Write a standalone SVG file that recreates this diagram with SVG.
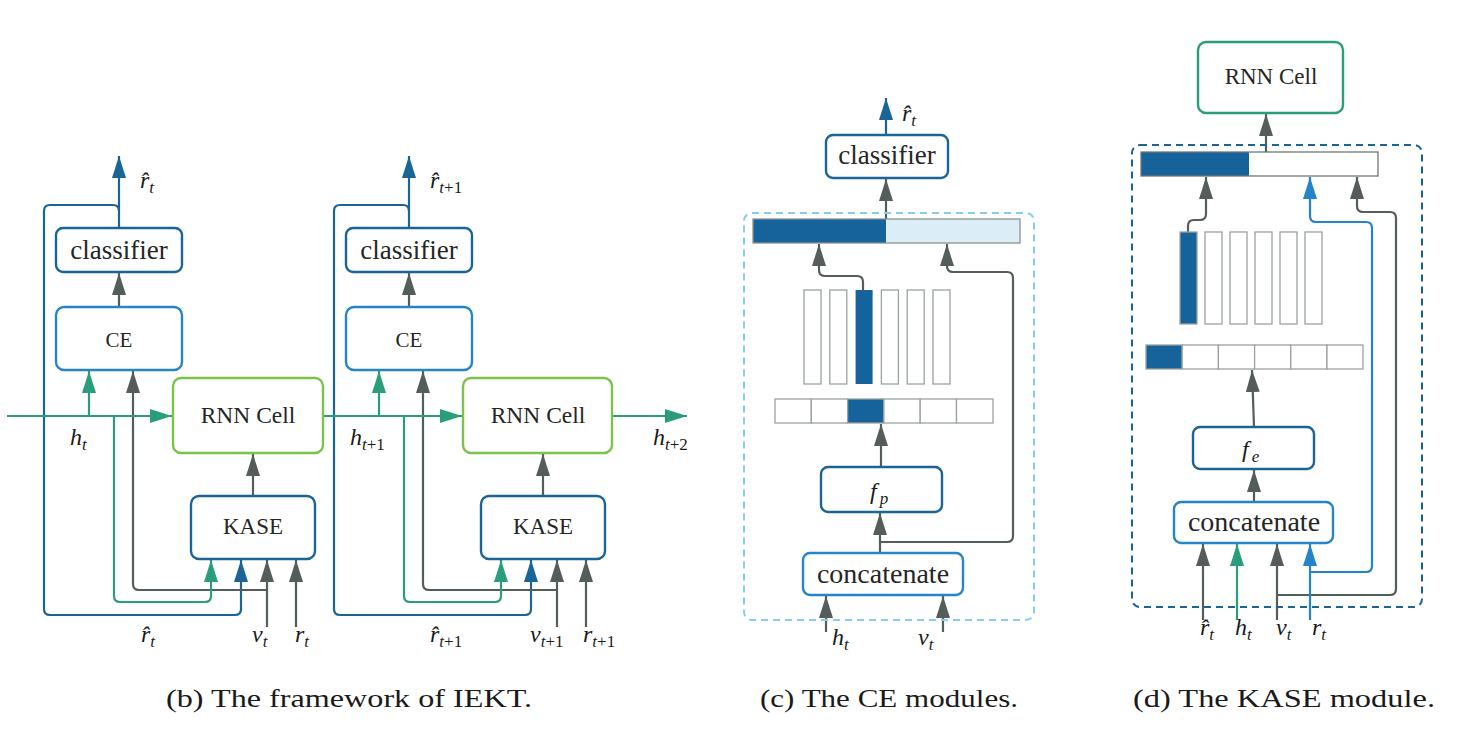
<svg xmlns="http://www.w3.org/2000/svg" width="1472" height="736" viewBox="0 0 1472 736">
<style>
.box{fill:#fff;stroke-width:2.4}
.dk{stroke:#1b6496}
.lb{stroke:#2685c6}
.gr{stroke:#7dc24b}
.tl{stroke:#2a9d7c}
.lbl{font-family:'Liberation Serif','Times New Roman','DejaVu Serif',serif;fill:#262626;text-anchor:middle}
.m{font-family:'Liberation Serif','Times New Roman','DejaVu Serif',serif;font-style:italic;font-size:24px;fill:#1a1a1a}
.s{font-size:17px}
.u{font-style:normal}
.c{fill:none;stroke-width:2.2;stroke-linejoin:round}
.cg{stroke:#555d5b}
.ct{stroke:#2a9d7c}
.cb{stroke:#1b6496}
.cl{stroke:#2384c9}
.cell{fill:#fff;stroke:#9aa3a0;stroke-width:1.3}
.dfill{fill:#15639a}
.cap{font-family:'Liberation Serif','Times New Roman','DejaVu Serif',serif;font-size:26px;fill:#1a1a1a}
</style>
<defs>
<marker id="ag" markerUnits="userSpaceOnUse" markerWidth="22" markerHeight="14" refX="22" refY="7" orient="auto"><path d="M0,0 L22,7 L0,14 z" fill="#555d5b"/></marker>
<marker id="at" markerUnits="userSpaceOnUse" markerWidth="22" markerHeight="14" refX="22" refY="7" orient="auto"><path d="M0,0 L22,7 L0,14 z" fill="#2a9d7c"/></marker>
<marker id="ab" markerUnits="userSpaceOnUse" markerWidth="22" markerHeight="14" refX="22" refY="7" orient="auto"><path d="M0,0 L22,7 L0,14 z" fill="#1b6496"/></marker>
<marker id="al" markerUnits="userSpaceOnUse" markerWidth="22" markerHeight="14" refX="22" refY="7" orient="auto"><path d="M0,0 L22,7 L0,14 z" fill="#2384c9"/></marker>
</defs>

<!-- connectors -->
<g id="connectors">
<!-- panel b column 1 -->
<path class="c cb" d="M119,228 V156" marker-end="url(#ab)"/>
<path class="c cb" d="M119,211 Q119,205 113,205 H50 Q44,205 44,211 V609 Q44,615 50,615 H235 Q241,615 241,609 V560" marker-end="url(#ab)"/>
<path class="c cg" d="M119,307 V273" marker-end="url(#ag)"/>
<path class="c ct" d="M89,416 V371" marker-end="url(#at)"/>
<path class="c cg" d="M267,590 H139 Q133,590 133,584 V371" marker-end="url(#ag)"/>
<path class="c ct" d="M114,416 V596 Q114,602 120,602 H205 Q211,602 211,596 V560" marker-end="url(#at)"/>
<path class="c ct" d="M7,416 H172" marker-end="url(#at)"/>
<path class="c cg" d="M253,496 V454" marker-end="url(#ag)"/>
<path class="c cg" d="M267,627 V560" marker-end="url(#ag)"/>
<path class="c cg" d="M296,627 V560" marker-end="url(#ag)"/>
<!-- panel b column 2 -->
<path class="c cb" d="M409,228 V156" marker-end="url(#ab)"/>
<path class="c cb" d="M409,211 Q409,205 403,205 H340 Q334,205 334,211 V609 Q334,615 340,615 H525 Q531,615 531,609 V560" marker-end="url(#ab)"/>
<path class="c cg" d="M409,307 V273" marker-end="url(#ag)"/>
<path class="c ct" d="M379,416 V371" marker-end="url(#at)"/>
<path class="c cg" d="M557,590 H429 Q423,590 423,584 V371" marker-end="url(#ag)"/>
<path class="c ct" d="M404,416 V596 Q404,602 410,602 H495 Q501,602 501,596 V560" marker-end="url(#at)"/>
<path class="c ct" d="M323,416 H462" marker-end="url(#at)"/>
<path class="c cg" d="M543,496 V454" marker-end="url(#ag)"/>
<path class="c cg" d="M557,627 V560" marker-end="url(#ag)"/>
<path class="c cg" d="M586,627 V560" marker-end="url(#ag)"/>
<path class="c ct" d="M612,416 H687" marker-end="url(#at)"/>
<!-- panel c -->
<path class="c cb" d="M886,135 V98" marker-end="url(#ab)"/>
<path class="c cg" d="M886,219 V179" marker-end="url(#ag)"/>
<path class="c cg" d="M863,290 V282 Q863,276 857,276 H825 Q819,276 819,270 V244" marker-end="url(#ag)"/>
<path class="c cg" d="M880,542 H1007 Q1013,542 1013,536 V278 Q1013,272 1007,272 H953 Q947,272 947,266 V244" marker-end="url(#ag)"/>
<path class="c cg" d="M881,467 V424" marker-end="url(#ag)"/>
<path class="c cg" d="M880,553 V513" marker-end="url(#ag)"/>
<path class="c cg" d="M826,632 V596" marker-end="url(#ag)"/>
<path class="c cg" d="M943,632 V596" marker-end="url(#ag)"/>
<!-- panel d -->
<path class="c cg" d="M1266,152 V114" marker-end="url(#ag)"/>
<path class="c cg" d="M1188,232 V226 Q1188,220 1194,220 H1200 Q1206,220 1206,214 V177" marker-end="url(#ag)"/>
<path class="c cl" d="M1310,572 H1366 Q1372,572 1372,566 V228 Q1372,222 1366,222 H1316 Q1310,222 1310,216 V177" marker-end="url(#al)"/>
<path class="c cg" d="M1277,595 H1390 Q1396,595 1396,589 V218 Q1396,212 1390,212 H1363 Q1357,212 1357,206 V177" marker-end="url(#ag)"/>
<path class="c cg" d="M1254,427 L1252,370" marker-end="url(#ag)"/>
<path class="c cg" d="M1254,502 V470" marker-end="url(#ag)"/>
<path class="c cg" d="M1203,620 V544" marker-end="url(#ag)"/>
<path class="c ct" d="M1237,620 V544" marker-end="url(#at)"/>
<path class="c cg" d="M1277,620 V544" marker-end="url(#ag)"/>
<path class="c cl" d="M1310,620 V544" marker-end="url(#al)"/>
</g>

<!-- panel b nodes -->
<g id="classifier1"><rect class="box dk" x="56" y="228" width="126" height="44" rx="7"/><text class="lbl" x="119" y="259" font-size="27">classifier</text></g>
<g id="ce1"><rect class="box lb" x="56" y="307" width="126" height="63" rx="8"/><text class="lbl" x="119" y="347" font-size="21">CE</text></g>
<g id="rnn1"><rect class="box gr" x="173" y="378" width="150" height="75" rx="8"/><text class="lbl" x="248" y="423" font-size="23.5">RNN Cell</text></g>
<g id="kase1"><rect class="box dk" x="191" y="496" width="124" height="63" rx="8"/><text class="lbl" x="253" y="534" font-size="23">KASE</text></g>

<g id="classifier2"><rect class="box dk" x="346" y="228" width="126" height="44" rx="7"/><text class="lbl" x="409" y="259" font-size="27">classifier</text></g>
<g id="ce2"><rect class="box lb" x="346" y="307" width="126" height="63" rx="8"/><text class="lbl" x="409" y="347" font-size="21">CE</text></g>
<g id="rnn2"><rect class="box gr" x="463" y="378" width="149" height="75" rx="8"/><text class="lbl" x="538" y="423" font-size="23.5">RNN Cell</text></g>
<g id="kase2"><rect class="box dk" x="481" y="496" width="124" height="63" rx="8"/><text class="lbl" x="543" y="534" font-size="23">KASE</text></g>

<!-- panel b labels -->
<g id="labels-b">
<text class="m" x="140" y="188">r&#770;<tspan class="s" dy="5">t</tspan></text>
<text class="m" x="70" y="445">h<tspan class="s" dy="5">t</tspan></text>
<text class="m" x="141" y="642">r&#770;<tspan class="s" dy="5">t</tspan></text>
<text class="m" x="252" y="642">v<tspan class="s" dy="5">t</tspan></text>
<text class="m" x="295" y="642">r<tspan class="s" dy="5">t</tspan></text>

<text class="m" x="430" y="188">r&#770;<tspan class="s" dy="5">t</tspan><tspan class="s u">+1</tspan></text>
<text class="m" x="350" y="445">h<tspan class="s" dy="5">t</tspan><tspan class="s u">+1</tspan></text>
<text class="m" x="653" y="445">h<tspan class="s" dy="5">t</tspan><tspan class="s u">+2</tspan></text>
<text class="m" x="430" y="642">r&#770;<tspan class="s" dy="5">t</tspan><tspan class="s u">+1</tspan></text>
<text class="m" x="530" y="642">v<tspan class="s" dy="5">t</tspan><tspan class="s u">+1</tspan></text>
<text class="m" x="583" y="642">r<tspan class="s" dy="5">t</tspan><tspan class="s u">+1</tspan></text>
</g>

<!-- panel c -->
<g id="ce-frame"><rect x="744" y="213" width="290" height="407" rx="8" fill="none" stroke="#86cdf1" stroke-width="2" stroke-dasharray="7 5"/></g>
<g id="classifier-c"><rect class="box dk" x="826" y="135" width="122" height="43" rx="7"/><text class="lbl" x="887" y="164" font-size="27">classifier</text></g>
<g id="ce-bar">
<rect x="753" y="219" width="133" height="24" class="dfill"/>
<rect x="886" y="219" width="134" height="24" fill="#dbeef8"/>
<rect x="753" y="219" width="267" height="24" fill="none" stroke="#8a9390" stroke-width="1.3"/>
</g>
<g id="ce-columns">
<rect class="cell" x="804" y="290" width="17" height="94"/>
<rect class="cell" x="829.8" y="290" width="17" height="94"/>
<rect class="dfill" x="855.6" y="290" width="17" height="94"/>
<rect class="cell" x="881.4" y="290" width="17" height="94"/>
<rect class="cell" x="907.2" y="290" width="17" height="94"/>
<rect class="cell" x="933" y="290" width="17" height="94"/>
</g>
<g id="ce-cells">
<rect class="cell" x="775" y="399" width="36.3" height="24"/>
<rect class="cell" x="811.3" y="399" width="36.3" height="24"/>
<rect class="dfill" x="847.6" y="399" width="36.3" height="24" stroke="#9aa3a0" stroke-width="1.3"/>
<rect class="cell" x="883.9" y="399" width="36.3" height="24"/>
<rect class="cell" x="920.2" y="399" width="36.3" height="24"/>
<rect class="cell" x="956.5" y="399" width="36.5" height="24"/>
</g>
<g id="fp"><rect class="box dk" x="821" y="467" width="121" height="45" rx="7"/><text class="m" x="870" y="499" font-size="25">f<tspan class="s" dx="3" dy="5">p</tspan></text></g>
<g id="concat-c"><rect class="box lb" x="803" y="553" width="160" height="42" rx="7"/><text class="lbl" x="883" y="583" font-size="28">concatenate</text></g>
<g id="labels-c">
<text class="m" x="902" y="121">r&#770;<tspan class="s" dy="5">t</tspan></text>
<text class="m" x="832" y="645">h<tspan class="s" dy="5">t</tspan></text>
<text class="m" x="918" y="645">v<tspan class="s" dy="5">t</tspan></text>
</g>

<!-- panel d -->
<g id="kase-frame"><rect x="1132" y="145" width="290" height="462" rx="8" fill="none" stroke="#1b6496" stroke-width="2" stroke-dasharray="7 5"/></g>
<g id="rnn-d"><rect class="box tl" x="1198" y="42" width="145" height="71" rx="8"/><text class="lbl" x="1271" y="84" font-size="23">RNN Cell</text></g>
<g id="kase-bar">
<rect x="1141" y="152" width="108" height="24" class="dfill"/>
<rect x="1141" y="152" width="237" height="24" fill="none" stroke="#6f7775" stroke-width="1.3"/>
</g>
<g id="kase-columns">
<rect class="dfill" x="1180" y="232" width="17" height="92" stroke="#9aa3a0" stroke-width="1.3"/>
<rect class="cell" x="1205" y="232" width="17" height="92"/>
<rect class="cell" x="1230" y="232" width="17" height="92"/>
<rect class="cell" x="1255" y="232" width="17" height="92"/>
<rect class="cell" x="1280" y="232" width="17" height="92"/>
<rect class="cell" x="1305" y="232" width="17" height="92"/>
</g>
<g id="kase-cells">
<rect class="dfill" x="1146" y="345" width="36.2" height="24" stroke="#9aa3a0" stroke-width="1.3"/>
<rect class="cell" x="1182.2" y="345" width="36.2" height="24"/>
<rect class="cell" x="1218.4" y="345" width="36.2" height="24"/>
<rect class="cell" x="1254.6" y="345" width="36.2" height="24"/>
<rect class="cell" x="1290.8" y="345" width="36.2" height="24"/>
<rect class="cell" x="1327" y="345" width="36" height="24"/>
</g>
<g id="fe"><rect class="box dk" x="1193" y="427" width="121" height="42" rx="7"/><text class="m" x="1242" y="457" font-size="25">f<tspan class="s" dx="3" dy="5">e</tspan></text></g>
<g id="concat-d"><rect class="box lb" x="1174" y="502" width="159" height="41" rx="7"/><text class="lbl" x="1254" y="531" font-size="28">concatenate</text></g>
<g id="labels-d">
<text class="m" x="1200" y="635">r&#770;<tspan class="s" dy="5">t</tspan></text>
<text class="m" x="1235" y="635">h<tspan class="s" dy="5">t</tspan></text>
<text class="m" x="1276" y="635">v<tspan class="s" dy="5">t</tspan></text>
<text class="m" x="1312" y="635">r<tspan class="s" dy="5">t</tspan></text>
</g>

<!-- captions -->
<g id="captions">
<text class="cap" x="166" y="707" textLength="366" lengthAdjust="spacingAndGlyphs">(b)  The framework of IEKT.</text>
<text class="cap" x="760" y="707" textLength="258" lengthAdjust="spacingAndGlyphs">(c)  The CE modules.</text>
<text class="cap" x="1133" y="707" textLength="302" lengthAdjust="spacingAndGlyphs">(d)  The KASE module.</text>
</g>
</svg>
